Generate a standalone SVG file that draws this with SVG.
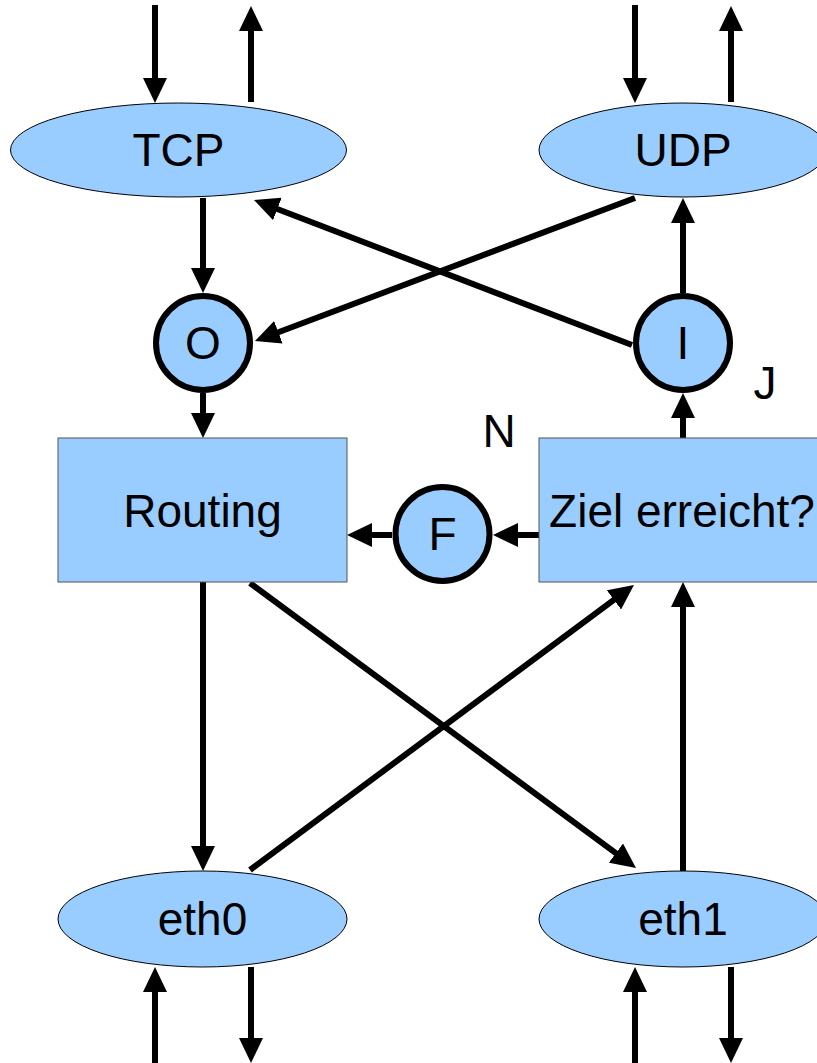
<svg xmlns="http://www.w3.org/2000/svg" width="817" height="1063" viewBox="0 0 817 1063">
<style>
.c line{stroke:#000;stroke-width:6;fill:none;marker-end:url(#ah)}
.el{fill:#99ccff;stroke:#000;stroke-width:1}
.bx{fill:#99ccff;stroke:#555;stroke-width:1}
.ci{fill:#99ccff;stroke:#000;stroke-width:6}
text{font-family:"Liberation Sans",Arial,sans-serif;font-size:46px;fill:#000;text-anchor:middle}
</style>
<defs>
<marker id="ah" viewBox="0 0 25 24" refX="5" refY="12" markerWidth="25" markerHeight="24" orient="auto" markerUnits="userSpaceOnUse">
<path d="M0,0 L25,12 L0,24 z" fill="#000"/>
</marker>
</defs>
<rect width="817" height="1063" fill="#fff"/>
<g id="connectors" class="c">
<line x1="155" y1="5" x2="155" y2="83"/>
<line x1="251" y1="102" x2="251" y2="26"/>
<line x1="635" y1="5" x2="635" y2="83"/>
<line x1="731" y1="102" x2="731" y2="26"/>
<line x1="203" y1="198" x2="203" y2="273"/>
<line x1="203" y1="393" x2="203" y2="418"/>
<line x1="635" y1="198" x2="273.7" y2="334"/>
<line x1="632" y1="345" x2="272.7" y2="207.2"/>
<line x1="683" y1="293" x2="683" y2="218"/>
<line x1="683" y1="438" x2="683" y2="413"/>
<line x1="539" y1="535" x2="513" y2="535"/>
<line x1="392" y1="535" x2="367" y2="535"/>
<line x1="203" y1="582" x2="203" y2="851"/>
<line x1="250" y1="583" x2="619.9" y2="856.1"/>
<line x1="250" y1="870" x2="617.9" y2="596.9"/>
<line x1="683" y1="871" x2="683" y2="602"/>
<line x1="155" y1="1063" x2="155" y2="987"/>
<line x1="251" y1="967" x2="251" y2="1043"/>
<line x1="635" y1="1063" x2="635" y2="987"/>
<line x1="731" y1="967" x2="731" y2="1043"/>
</g>
<g id="tcp"><ellipse class="el" cx="178.5" cy="150" rx="168" ry="47"/><text x="178.5" y="166">TCP</text></g>
<g id="udp"><ellipse class="el" cx="683" cy="150" rx="144" ry="47"/><text x="683" y="166">UDP</text></g>
<g id="o"><circle class="ci" cx="203" cy="343" r="47"/><text x="203" y="359">O</text></g>
<g id="i"><circle class="ci" cx="683" cy="343" r="47"/><text x="683" y="359">I</text></g>
<g id="routing"><rect class="bx" x="58" y="438" width="289" height="144"/><text x="202.5" y="527">Routing</text></g>
<g id="ziel"><rect class="bx" x="539" y="438" width="288" height="144"/><text x="682" y="527">Ziel erreicht?</text></g>
<g id="f"><circle class="ci" cx="442.5" cy="534" r="47"/><text x="442.5" y="550">F</text></g>
<g id="eth0"><ellipse class="el" cx="202.5" cy="919" rx="144.5" ry="48"/><text x="202.5" y="935">eth0</text></g>
<g id="eth1"><ellipse class="el" cx="683" cy="919" rx="144" ry="48"/><text x="683" y="935">eth1</text></g>
<g id="labels"><text x="765" y="399">J</text><text x="499" y="447">N</text></g>
</svg>
